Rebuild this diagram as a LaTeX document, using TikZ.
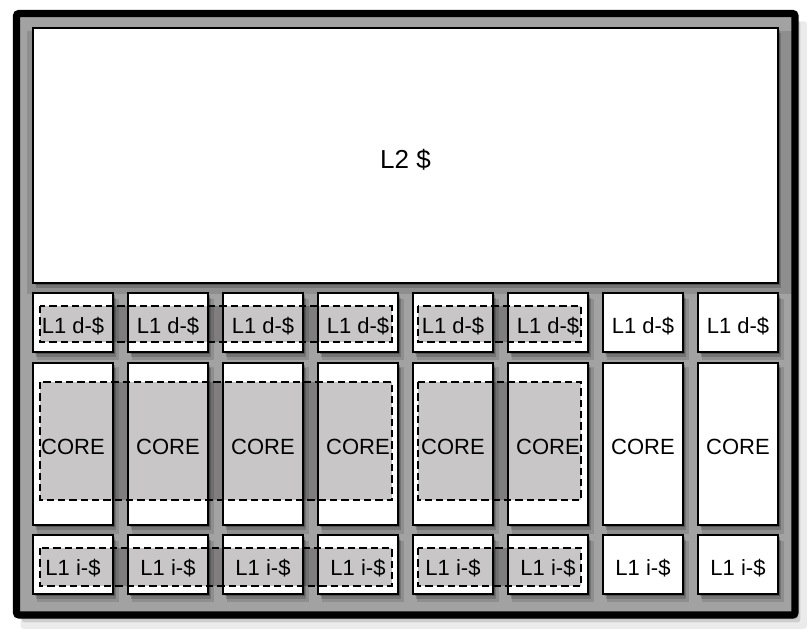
\documentclass[tikz,border=0pt]{standalone}
\usepackage{fontspec}
\setmainfont{Liberation Sans}
\usetikzlibrary{shadows}

\definecolor{diegray}{HTML}{A2A2A2}
\definecolor{sharedgray}{HTML}{C8C6C6}

\tikzset{
  softshadow/.style={
    general shadow={fill=black, opacity=0.12, shadow xshift=3.5pt, shadow yshift=-5pt, shadow scale=1.03},
    general shadow={fill=black, opacity=0.18, shadow xshift=2.5pt, shadow yshift=-3.5pt},
    general shadow={fill=black, opacity=0.25, shadow xshift=1.5pt, shadow yshift=-1.5pt}},
  frameshadow/.style={
    general shadow={fill=black, opacity=0.08, shadow xshift=6pt, shadow yshift=-8pt, shadow scale=1.01},
    general shadow={fill=black, opacity=0.12, shadow xshift=4pt, shadow yshift=-5.5pt},
    general shadow={fill=black, opacity=0.18, shadow xshift=2pt, shadow yshift=-3pt}},
  unit/.style={draw=black, line width=0.9pt, fill=white, inner sep=0pt,
    text height=16pt, text depth=0pt,
    font=\fontsize{16.5}{18}\selectfont, softshadow},
  cachebox/.style={unit, minimum width=60pt, minimum height=44.25pt},
  corebox/.style={unit, minimum width=60pt, minimum height=121.5pt},
  shared/.style={draw=black, line width=0.9pt, dash pattern=on 5.5pt off 3pt,
    fill=sharedgray, blend mode=multiply},
}

\begin{document}
\begin{tikzpicture}[x=0.75pt, y=-0.75pt]

    \useasboundingbox (0,0) rectangle (808,636);

    % Draw the chip outline
    \draw[line width=5.5pt, rounded corners=2pt, fill=diegray, frameshadow]
        (16.5,13.5) rectangle (795,615);

    % Shared cache on top
    \node[unit, minimum width=558.75pt, minimum height=191.25pt, text height=19.5pt,
          font=\fontsize{19.5}{22}\selectfont] (l2) at (405.5,155.5) {L2 \$};

    % Data caches
    \node[cachebox] (dc1) at (73,322.5) {L1 d-\$};
    \node[cachebox] (dc2) at (168,322.5) {L1 d-\$};
    \node[cachebox] (dc3) at (263,322.5) {L1 d-\$};
    \node[cachebox] (dc4) at (358,322.5) {L1 d-\$};
    \node[cachebox] (dc5) at (453,322.5) {L1 d-\$};
    \node[cachebox] (dc6) at (548,322.5) {L1 d-\$};
    \node[cachebox] (dc7) at (643,322.5) {L1 d-\$};
    \node[cachebox] (dc8) at (738,322.5) {L1 d-\$};

    % Cores
    \node[corebox] (core1) at (73,444) {CORE};
    \node[corebox] (core2) at (168,444) {CORE};
    \node[corebox] (core3) at (263,444) {CORE};
    \node[corebox] (core4) at (358,444) {CORE};
    \node[corebox] (core5) at (453,444) {CORE};
    \node[corebox] (core6) at (548,444) {CORE};
    \node[corebox] (core7) at (643,444) {CORE};
    \node[corebox] (core8) at (738,444) {CORE};

    % Instruction caches
    \node[cachebox] (ic1) at (73,564.5) {L1 i-\$};
    \node[cachebox] (ic2) at (168,564.5) {L1 i-\$};
    \node[cachebox] (ic3) at (263,564.5) {L1 i-\$};
    \node[cachebox] (ic4) at (358,564.5) {L1 i-\$};
    \node[cachebox] (ic5) at (453,564.5) {L1 i-\$};
    \node[cachebox] (ic6) at (548,564.5) {L1 i-\$};
    \node[cachebox] (ic7) at (643,564.5) {L1 i-\$};
    \node[cachebox] (ic8) at (738,564.5) {L1 i-\$};

    % Dashed groups: first four columns, then columns five and six
    \draw[shared] (40,306) rectangle (392,342);
    \draw[shared] (40,382) rectangle (392,500);
    \draw[shared] (40,548) rectangle (392,586);

    \draw[shared] (418,306) rectangle (581,342);
    \draw[shared] (418,382) rectangle (581,500);
    \draw[shared] (418,548) rectangle (581,586);

\end{tikzpicture}
\end{document}
